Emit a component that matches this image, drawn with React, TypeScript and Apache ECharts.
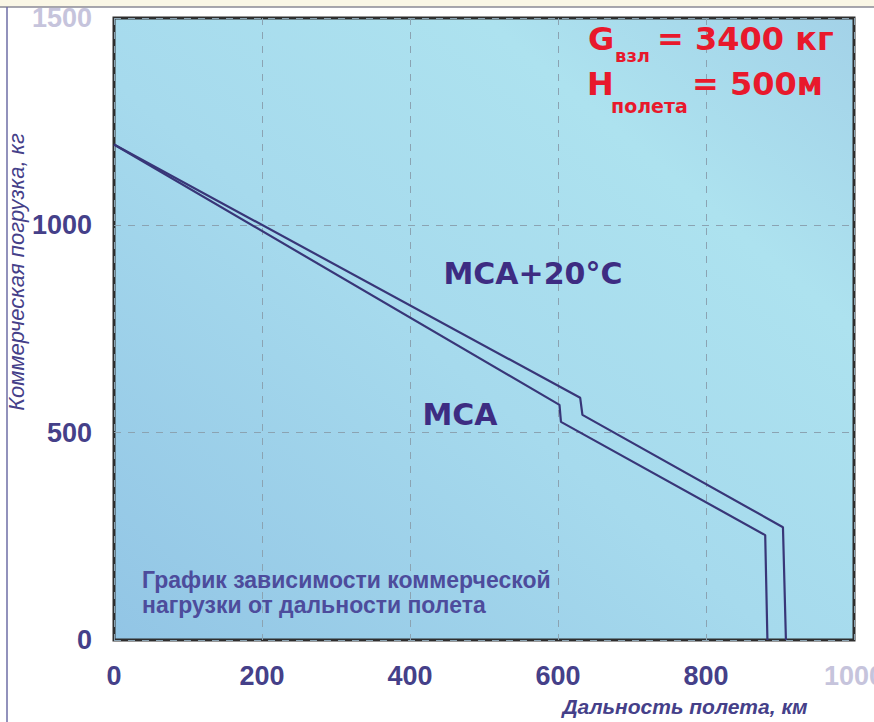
import React, { useEffect, useRef } from "react";
import * as echarts from "echarts";

// ---- data ----
const rangeMin = 0;
const rangeMax = 1000;
const rangeStep = 200;
const payloadMin = 0;
const payloadMax = 1500;
const payloadStep = 500;
const fadedRangeTick = 1000;
const fadedPayloadTick = 1500;

const seriesNames = ["МСА", "МСА+20°С"];
const mcaRange = [0, 602, 604, 880, 883];
const mcaPayload = [1195, 567, 526, 253, 0];
const mca20Range = [0, 630, 633, 904, 908];
const mca20Payload = [1195, 584, 543, 272, 0];

const yAxisTitle = "Коммерческая погрузка, кг";
const xAxisTitle = "Дальность полета, км";
const captionLines = ["График зависимости коммерческой", "нагрузки от дальности полета"];
const condG = ["G", "взл", "= 3400 кг"];
const condH = ["H", "полета", "= 500м"];

const NAVY = "#454089";
const FADED = "#c6c4dc";
const RED = "#e8192c";
const LINE = "#383678";

export default function App() {
  const ref = useRef<HTMLDivElement>(null);
  useEffect(() => {
    if (!ref.current) return;
    document.documentElement.style.overflow = "hidden";
    document.body.style.overflow = "hidden";
    const chart = echarts.init(ref.current, null, { renderer: "svg", width: 874, height: 722 });
    const pair = (xs: number[], ys: number[]) => xs.map((x, i) => [x, ys[i]]);
    const labelFont = { fontFamily: "Liberation Sans, Arial, sans-serif", fontWeight: "bold" as const, fontSize: 27 };
    const red = (size: number) => `bold ${size}px 'DejaVu Sans', sans-serif`;
    chart.setOption({
      animation: false,
      backgroundColor: "#ffffff",
      grid: {
        left: 114,
        top: 18,
        right: 20,
        bottom: 82,
        outerBoundsMode: "none",
        containLabel: false,
        show: true,
        borderColor: "#2e2e2e",
        borderWidth: 3,
        backgroundColor: new echarts.graphic.LinearGradient(0, 1, 1, 0, [
          { offset: 0, color: "#92c5e5" },
          { offset: 0.45, color: "#a6daed" },
          { offset: 0.75, color: "#ade2ef" },
          { offset: 1, color: "#a3d2e8" },
        ]),
      },
      xAxis: {
        type: "value",
        min: rangeMin,
        max: rangeMax,
        interval: rangeStep,
        axisLine: { show: false },
        axisTick: { show: false },
        splitLine: { show: true, lineStyle: { color: "#8ba3b2", type: [7, 7], width: 1 } },
        axisLabel: {
          ...labelFont,
          margin: 22,
          formatter: (v: number) => String(v),
          color: (v: any) => (Number(v) === fadedRangeTick ? FADED : NAVY),
        },
      },
      yAxis: {
        type: "value",
        min: payloadMin,
        max: payloadMax,
        interval: payloadStep,
        axisLine: { show: false },
        axisTick: { show: false },
        splitLine: { show: true, lineStyle: { color: "#8ba3b2", type: [7, 7], width: 1 } },
        axisLabel: {
          ...labelFont,
          margin: 22,
          padding: [6, 0, 0, 0],
          formatter: (v: number) => String(v),
          color: (v: any) => (Number(v) === fadedPayloadTick ? FADED : NAVY),
        },
      },
      series: [
        {
          name: seriesNames[0],
          type: "line",
          data: pair(mcaRange, mcaPayload),
          symbol: "none",
          lineStyle: { color: LINE, width: 2.2 },
          z: 5,
        },
        {
          name: seriesNames[1],
          type: "line",
          data: pair(mca20Range, mca20Payload),
          symbol: "none",
          lineStyle: { color: LINE, width: 2.2 },
          z: 5,
        },
      ],
      graphic: [
        { type: "rect", shape: { x: 0, y: 0, width: 874, height: 7 }, style: { fill: "#faf7e6" }, z: 0 },
        { type: "line", shape: { x1: 0, y1: 7, x2: 874, y2: 7 }, style: { stroke: "#8a8a96", lineWidth: 1.5 }, z: 1 },
        { type: "line", shape: { x1: 7, y1: 7, x2: 7, y2: 722 }, style: { stroke: "#6e6ea6", lineWidth: 1.5 }, z: 1 },
        {
          type: "text",
          x: 16,
          y: 272,
          rotation: Math.PI / 2,
          style: {
            text: yAxisTitle,
            fill: NAVY,
            font: "italic 22px 'Liberation Sans', Arial, sans-serif",
            textAlign: "center",
            textVerticalAlign: "middle",
          },
          z: 10,
        },
        {
          type: "text",
          x: 685,
          y: 706,
          style: {
            text: xAxisTitle,
            fill: NAVY,
            font: "italic bold 21px 'Liberation Sans', Arial, sans-serif",
            textAlign: "center",
            textVerticalAlign: "middle",
          },
          z: 10,
        },
        {
          type: "text",
          x: 142,
          y: 580,
          style: {
            text: captionLines[0],
            fill: "#4d4c9c",
            font: "bold 23px 'Liberation Sans', Arial, sans-serif",
            textAlign: "left",
            textVerticalAlign: "middle",
          },
          z: 10,
        },
        {
          type: "text",
          x: 142,
          y: 605,
          style: {
            text: captionLines[1],
            fill: "#4d4c9c",
            font: "bold 23px 'Liberation Sans', Arial, sans-serif",
            textAlign: "left",
            textVerticalAlign: "middle",
          },
          z: 10,
        },
        {
          type: "text",
          x: 533,
          y: 273,
          style: {
            text: seriesNames[1],
            fill: "#3d2c82",
            font: "bold 30px 'DejaVu Sans', sans-serif",
            textAlign: "center",
            textVerticalAlign: "middle",
          },
          z: 10,
        },
        {
          type: "text",
          x: 460,
          y: 414,
          style: {
            text: seriesNames[0],
            fill: "#3d2c82",
            font: "bold 30px 'DejaVu Sans', sans-serif",
            textAlign: "center",
            textVerticalAlign: "middle",
          },
          z: 10,
        },
        { type: "text", x: 588, y: 55, style: { text: condG[0], fill: RED, font: red(32), textVerticalAlign: "bottom" }, z: 10 },
        { type: "text", x: 615, y: 64, style: { text: condG[1], fill: RED, font: red(18), textVerticalAlign: "bottom" }, z: 10 },
        { type: "text", x: 657, y: 55, style: { text: condG[2], fill: RED, font: red(32), textVerticalAlign: "bottom" }, z: 10 },
        { type: "text", x: 587, y: 100, style: { text: condH[0], fill: RED, font: red(32), textVerticalAlign: "bottom" }, z: 10 },
        { type: "text", x: 611, y: 115, style: { text: condH[1], fill: RED, font: red(19), textVerticalAlign: "bottom" }, z: 10 },
        { type: "text", x: 692, y: 100, style: { text: condH[2], fill: RED, font: red(32), textVerticalAlign: "bottom" }, z: 10 },
      ],
    });
    return () => chart.dispose();
  }, []);
  return (
    <div
      ref={ref}
      style={{ position: "absolute", left: 0, top: 0, width: 874, height: 722 }}
    />
  );
}
